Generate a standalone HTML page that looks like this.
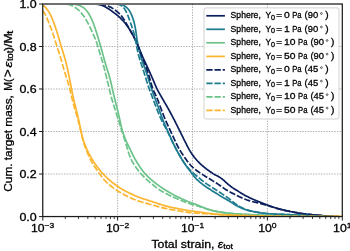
<!DOCTYPE html><html><head><meta charset="utf-8"><style>html,body{margin:0;padding:0;background:#fff}svg{display:block;will-change:transform;opacity:0.999}text{font-family:"Liberation Sans",sans-serif;fill:#000;stroke:#000;stroke-width:0.3px}</style></head><body>
<svg width="350" height="251" viewBox="0 0 350 251">
<rect width="350" height="251" fill="#fff"/>
<path d="M117.6,4.0 V216.55 M192.5,4.0 V216.55 M267.4,4.0 V216.55 M42.75,174.0 H342.3 M42.75,131.5 H342.3 M42.75,89.0 H342.3 M42.75,46.5 H342.3" stroke="#a4a4a4" stroke-width="0.9" stroke-dasharray="1.35,1.3" fill="none"/>
<clipPath id="c"><rect x="42.75" y="4.9" width="299.55" height="211.25"/></clipPath>
<g clip-path="url(#c)" fill="none" stroke-width="1.7" stroke-linejoin="round">
<path d="M42.50,4.00 L43.59,4.00 L44.61,4.00 L45.59,4.00 L46.56,4.00 L47.53,4.00 L48.52,4.00 L49.51,4.00 L50.50,4.00 L51.50,4.00 L52.50,4.00 L53.50,4.00 L54.50,4.00 L55.50,4.00 L56.50,4.00 L57.50,4.00 L58.50,4.00 L59.50,4.00 L60.50,4.00 L61.50,4.00 L62.50,4.00 L63.50,4.00 L64.50,4.00 L65.50,4.00 L66.50,4.00 L67.50,4.00 L68.50,4.00 L69.50,4.00 L70.50,4.00 L71.50,4.00 L72.50,4.00 L73.50,4.00 L74.50,4.00 L75.50,4.00 L76.50,4.00 L77.50,4.00 L78.50,4.00 L79.50,4.00 L80.50,4.00 L81.50,4.00 L82.50,4.00 L83.50,4.00 L84.50,4.00 L85.50,4.00 L86.50,4.00 L87.50,4.00 L88.50,4.00 L89.50,4.00 L90.50,4.00 L91.50,4.01 L92.50,4.02 L93.50,4.04 L94.49,4.08 L95.49,4.13 L96.48,4.21 L97.47,4.32 L98.45,4.47 L99.42,4.66 L100.38,4.89 L101.34,5.17 L102.27,5.49 L103.19,5.85 L104.10,6.25 L104.99,6.69 L105.87,7.16 L106.73,7.66 L107.58,8.18 L108.42,8.72 L109.25,9.27 L110.07,9.84 L110.89,10.42 L111.69,11.01 L112.50,11.60 L113.30,12.20 L114.09,12.81 L114.88,13.42 L115.67,14.03 L116.46,14.66 L117.23,15.28 L118.00,15.92 L118.75,16.58 L119.50,17.24 L120.22,17.93 L120.94,18.62 L121.64,19.33 L122.33,20.06 L123.00,20.79 L123.67,21.54 L124.32,22.30 L124.96,23.06 L125.59,23.84 L126.21,24.62 L126.81,25.42 L127.40,26.22 L127.98,27.04 L128.53,27.87 L129.08,28.70 L129.61,29.55 L130.13,30.40 L130.65,31.26 L131.15,32.12 L131.66,32.98 L132.16,33.85 L132.65,34.72 L133.14,35.59 L133.62,36.47 L134.09,37.35 L134.56,38.23 L135.01,39.12 L135.46,40.02 L135.89,40.92 L136.32,41.82 L136.74,42.73 L137.15,43.64 L137.55,44.56 L137.95,45.47 L138.34,46.40 L138.72,47.32 L139.10,48.24 L139.47,49.17 L139.84,50.10 L140.21,51.03 L140.59,51.96 L140.96,52.88 L141.34,53.81 L141.73,54.73 L142.12,55.65 L142.52,56.56 L142.93,57.48 L143.35,58.39 L143.76,59.30 L144.18,60.20 L144.61,61.11 L145.03,62.01 L145.46,62.92 L145.89,63.82 L146.31,64.73 L146.73,65.63 L147.15,66.54 L147.57,67.45 L147.99,68.36 L148.41,69.27 L148.82,70.18 L149.23,71.09 L149.65,72.00 L150.06,72.91 L150.47,73.82 L150.88,74.74 L151.28,75.65 L151.69,76.56 L152.09,77.48 L152.49,78.40 L152.88,79.32 L153.27,80.24 L153.66,81.16 L154.04,82.08 L154.42,83.01 L154.80,83.93 L155.19,84.85 L155.58,85.77 L155.98,86.69 L156.39,87.60 L156.81,88.50 L157.25,89.40 L157.70,90.29 L158.17,91.18 L158.65,92.05 L159.14,92.92 L159.63,93.79 L160.13,94.66 L160.64,95.52 L161.14,96.38 L161.65,97.25 L162.15,98.11 L162.66,98.97 L163.16,99.84 L163.66,100.70 L164.17,101.57 L164.67,102.43 L165.17,103.30 L165.67,104.16 L166.17,105.03 L166.67,105.90 L167.16,106.77 L167.65,107.64 L168.14,108.51 L168.63,109.38 L169.11,110.26 L169.59,111.13 L170.07,112.01 L170.55,112.89 L171.02,113.77 L171.49,114.65 L171.96,115.54 L172.43,116.42 L172.89,117.31 L173.35,118.19 L173.81,119.08 L174.27,119.97 L174.73,120.86 L175.18,121.75 L175.64,122.64 L176.09,123.54 L176.53,124.43 L176.98,125.32 L177.43,126.22 L177.87,127.11 L178.32,128.01 L178.76,128.91 L179.21,129.80 L179.65,130.70 L180.09,131.59 L180.54,132.49 L180.98,133.39 L181.42,134.28 L181.87,135.18 L182.31,136.08 L182.75,136.97 L183.20,137.87 L183.64,138.76 L184.09,139.66 L184.53,140.56 L184.98,141.45 L185.42,142.35 L185.87,143.24 L186.32,144.14 L186.76,145.03 L187.22,145.92 L187.68,146.81 L188.14,147.69 L188.62,148.57 L189.10,149.45 L189.60,150.31 L190.11,151.17 L190.64,152.02 L191.18,152.86 L191.73,153.69 L192.30,154.51 L192.88,155.32 L193.48,156.12 L194.09,156.91 L194.71,157.70 L195.34,158.47 L195.99,159.23 L196.64,159.98 L197.31,160.73 L197.99,161.46 L198.69,162.18 L199.39,162.88 L200.11,163.58 L200.84,164.26 L201.57,164.94 L202.32,165.60 L203.08,166.25 L203.84,166.90 L204.62,167.53 L205.40,168.15 L206.18,168.77 L206.98,169.37 L207.78,169.97 L208.59,170.56 L209.40,171.14 L210.22,171.72 L211.04,172.28 L211.88,172.83 L212.72,173.37 L213.57,173.89 L214.43,174.40 L215.30,174.89 L216.17,175.37 L217.05,175.85 L217.92,176.33 L218.79,176.82 L219.65,177.32 L220.49,177.85 L221.32,178.40 L222.12,178.99 L222.90,179.60 L223.66,180.24 L224.40,180.90 L225.13,181.58 L225.86,182.26 L226.59,182.94 L227.32,183.61 L228.07,184.27 L228.84,184.91 L229.61,185.54 L230.41,186.15 L231.21,186.74 L232.02,187.32 L232.84,187.89 L233.67,188.44 L234.51,188.99 L235.35,189.53 L236.20,190.06 L237.05,190.58 L237.90,191.10 L238.76,191.62 L239.61,192.14 L240.47,192.66 L241.32,193.18 L242.18,193.69 L243.04,194.20 L243.91,194.70 L244.77,195.20 L245.65,195.68 L246.53,196.15 L247.42,196.61 L248.31,197.07 L249.20,197.51 L250.10,197.94 L251.01,198.37 L251.92,198.78 L252.83,199.19 L253.75,199.59 L254.67,199.98 L255.59,200.37 L256.51,200.75 L257.44,201.12 L258.37,201.50 L259.29,201.87 L260.22,202.24 L261.15,202.61 L262.08,202.98 L263.01,203.35 L263.94,203.71 L264.88,204.08 L265.81,204.44 L266.74,204.80 L267.67,205.16 L268.61,205.51 L269.55,205.86 L270.48,206.20 L271.43,206.54 L272.37,206.87 L273.32,207.19 L274.27,207.50 L275.22,207.81 L276.17,208.10 L277.13,208.39 L278.09,208.66 L279.06,208.93 L280.02,209.18 L280.99,209.43 L281.96,209.67 L282.93,209.90 L283.91,210.13 L284.88,210.35 L285.86,210.56 L286.84,210.77 L287.82,210.98 L288.79,211.19 L289.77,211.39 L290.75,211.59 L291.73,211.79 L292.71,211.98 L293.70,212.17 L294.68,212.36 L295.66,212.54 L296.65,212.71 L297.63,212.88 L298.62,213.04 L299.61,213.20 L300.59,213.35 L301.58,213.50 L302.57,213.64 L303.56,213.77 L304.56,213.90 L305.55,214.02 L306.54,214.14 L307.53,214.25 L308.53,214.36 L309.52,214.46 L310.52,214.56 L311.51,214.65 L312.51,214.74 L313.51,214.83 L314.50,214.92 L315.50,215.01 L316.49,215.09 L317.49,215.18 L318.49,215.27 L319.48,215.36 L320.48,215.46 L321.47,215.55 L322.47,215.65 L323.46,215.74 L324.46,215.84 L325.46,215.93 L326.45,216.01 L327.45,216.10 L328.44,216.18 L329.44,216.25 L330.44,216.32 L331.44,216.38 L332.43,216.44 L333.43,216.50 L334.43,216.55 L335.42,216.59 L336.40,216.64 L337.38,216.67 L338.35,216.71 L339.33,216.74 L340.32,216.77 L341.37,216.79" stroke="#0b1f5c"/>
<path d="M42.50,4.00 L43.59,4.00 L44.61,4.00 L45.59,4.00 L46.56,4.00 L47.53,4.00 L48.52,4.00 L49.51,4.00 L50.50,4.00 L51.50,4.00 L52.50,4.00 L53.50,4.00 L54.50,4.00 L55.50,4.00 L56.50,4.00 L57.50,4.00 L58.50,4.00 L59.50,4.00 L60.50,4.00 L61.50,4.00 L62.50,4.00 L63.50,4.00 L64.50,4.00 L65.50,4.00 L66.50,4.00 L67.50,4.00 L68.50,4.00 L69.50,4.00 L70.50,4.00 L71.50,4.00 L72.50,4.00 L73.50,4.00 L74.50,4.00 L75.50,4.00 L76.50,4.00 L77.50,4.00 L78.50,4.00 L79.50,4.00 L80.50,4.00 L81.50,4.00 L82.50,4.00 L83.50,4.00 L84.50,4.00 L85.50,4.00 L86.50,4.00 L87.50,4.00 L88.50,4.00 L89.50,4.00 L90.50,4.00 L91.50,4.00 L92.50,4.00 L93.50,4.00 L94.50,4.00 L95.50,4.00 L96.50,4.00 L97.50,4.00 L98.50,4.00 L99.50,4.00 L100.50,4.00 L101.50,4.00 L102.50,4.00 L103.50,4.00 L104.50,4.00 L105.50,4.00 L106.50,4.00 L107.50,4.00 L108.50,4.00 L109.50,4.00 L110.50,4.00 L111.50,4.00 L112.50,4.00 L113.50,4.00 L114.50,4.01 L115.50,4.02 L116.49,4.04 L117.49,4.08 L118.48,4.15 L119.46,4.25 L120.42,4.41 L121.37,4.63 L122.30,4.92 L123.21,5.27 L124.08,5.70 L124.92,6.19 L125.72,6.75 L126.48,7.36 L127.20,8.02 L127.87,8.74 L128.50,9.50 L129.08,10.29 L129.62,11.12 L130.13,11.97 L130.59,12.84 L131.03,13.74 L131.44,14.65 L131.82,15.57 L132.19,16.49 L132.55,17.43 L132.88,18.37 L133.20,19.31 L133.51,20.26 L133.79,21.22 L134.06,22.18 L134.31,23.15 L134.54,24.12 L134.75,25.09 L134.95,26.07 L135.14,27.05 L135.32,28.04 L135.49,29.02 L135.65,30.01 L135.80,31.00 L135.95,31.99 L136.09,32.98 L136.22,33.97 L136.35,34.96 L136.49,35.95 L136.63,36.94 L136.77,37.93 L136.93,38.91 L137.09,39.90 L137.26,40.89 L137.44,41.87 L137.63,42.85 L137.83,43.83 L138.03,44.81 L138.23,45.79 L138.44,46.77 L138.65,47.74 L138.87,48.72 L139.10,49.69 L139.33,50.67 L139.57,51.64 L139.81,52.61 L140.06,53.58 L140.32,54.54 L140.59,55.50 L140.86,56.47 L141.14,57.43 L141.43,58.38 L141.73,59.34 L142.03,60.29 L142.34,61.24 L142.67,62.19 L143.00,63.13 L143.33,64.07 L143.68,65.01 L144.02,65.95 L144.37,66.88 L144.72,67.82 L145.06,68.76 L145.40,69.70 L145.73,70.65 L146.06,71.59 L146.38,72.54 L146.70,73.48 L147.02,74.43 L147.33,75.38 L147.64,76.33 L147.94,77.29 L148.25,78.24 L148.55,79.19 L148.84,80.15 L149.14,81.10 L149.43,82.06 L149.72,83.02 L150.01,83.97 L150.31,84.93 L150.60,85.88 L150.90,86.84 L151.21,87.79 L151.53,88.74 L151.85,89.68 L152.18,90.63 L152.51,91.57 L152.85,92.51 L153.20,93.45 L153.55,94.38 L153.90,95.32 L154.25,96.26 L154.60,97.19 L154.95,98.13 L155.30,99.07 L155.65,100.00 L156.00,100.94 L156.35,101.88 L156.70,102.81 L157.05,103.75 L157.40,104.69 L157.75,105.62 L158.10,106.56 L158.44,107.50 L158.78,108.44 L159.11,109.38 L159.45,110.33 L159.78,111.27 L160.11,112.21 L160.44,113.16 L160.77,114.10 L161.10,115.04 L161.44,115.99 L161.78,116.93 L162.13,117.86 L162.48,118.80 L162.84,119.73 L163.21,120.66 L163.58,121.59 L163.97,122.51 L164.35,123.43 L164.75,124.35 L165.15,125.27 L165.55,126.18 L165.96,127.10 L166.37,128.01 L166.78,128.92 L167.19,129.83 L167.60,130.74 L168.01,131.66 L168.42,132.57 L168.82,133.48 L169.23,134.40 L169.64,135.31 L170.05,136.22 L170.46,137.13 L170.87,138.05 L171.28,138.96 L171.69,139.87 L172.11,140.78 L172.53,141.68 L172.95,142.59 L173.38,143.49 L173.81,144.40 L174.25,145.30 L174.69,146.19 L175.13,147.09 L175.58,147.99 L176.03,148.88 L176.49,149.77 L176.95,150.65 L177.42,151.53 L177.89,152.41 L178.37,153.29 L178.86,154.17 L179.35,155.04 L179.85,155.90 L180.35,156.77 L180.86,157.63 L181.37,158.49 L181.88,159.35 L182.41,160.20 L182.93,161.05 L183.47,161.89 L184.02,162.73 L184.57,163.56 L185.13,164.39 L185.71,165.20 L186.29,166.02 L186.88,166.82 L187.47,167.63 L188.07,168.43 L188.67,169.23 L189.28,170.02 L189.88,170.82 L190.47,171.62 L191.07,172.43 L191.67,173.23 L192.26,174.03 L192.87,174.83 L193.48,175.61 L194.11,176.39 L194.75,177.15 L195.42,177.90 L196.09,178.63 L196.79,179.35 L197.50,180.05 L198.22,180.73 L198.96,181.40 L199.71,182.06 L200.48,182.70 L201.25,183.33 L202.04,183.95 L202.83,184.56 L203.64,185.15 L204.45,185.73 L205.27,186.31 L206.09,186.87 L206.92,187.43 L207.76,187.97 L208.60,188.52 L209.44,189.06 L210.28,189.59 L211.13,190.13 L211.97,190.66 L212.82,191.20 L213.67,191.73 L214.51,192.26 L215.36,192.79 L216.21,193.32 L217.06,193.84 L217.91,194.36 L218.77,194.88 L219.62,195.40 L220.48,195.92 L221.34,196.43 L222.20,196.94 L223.06,197.45 L223.92,197.95 L224.79,198.46 L225.65,198.96 L226.51,199.47 L227.37,199.98 L228.23,200.49 L229.09,201.00 L229.94,201.53 L230.79,202.05 L231.64,202.58 L232.49,203.11 L233.33,203.65 L234.18,204.17 L235.03,204.69 L235.89,205.20 L236.76,205.70 L237.63,206.18 L238.51,206.65 L239.41,207.10 L240.30,207.54 L241.21,207.95 L242.13,208.35 L243.05,208.72 L243.99,209.08 L244.92,209.42 L245.87,209.73 L246.82,210.03 L247.78,210.32 L248.74,210.58 L249.71,210.83 L250.68,211.07 L251.66,211.29 L252.63,211.50 L253.61,211.70 L254.59,211.89 L255.58,212.07 L256.56,212.25 L257.55,212.42 L258.53,212.58 L259.52,212.74 L260.51,212.89 L261.50,213.03 L262.49,213.17 L263.48,213.29 L264.47,213.41 L265.47,213.51 L266.46,213.60 L267.46,213.68 L268.45,213.75 L269.45,213.81 L270.45,213.87 L271.45,213.92 L272.45,213.97 L273.45,214.02 L274.44,214.06 L275.44,214.11 L276.44,214.15 L277.44,214.19 L278.44,214.23 L279.44,214.27 L280.44,214.32 L281.44,214.36 L282.44,214.40 L283.44,214.44 L284.44,214.48 L285.44,214.52 L286.43,214.56 L287.43,214.61 L288.43,214.65 L289.43,214.70 L290.43,214.74 L291.43,214.79 L292.43,214.83 L293.43,214.88 L294.43,214.93 L295.42,214.98 L296.42,215.03 L297.42,215.08 L298.42,215.13 L299.42,215.18 L300.42,215.24 L301.42,215.29 L302.41,215.35 L303.41,215.41 L304.41,215.47 L305.41,215.53 L306.41,215.59 L307.41,215.65 L308.40,215.71 L309.40,215.77 L310.40,215.83 L311.40,215.89 L312.40,215.96 L313.39,216.02 L314.39,216.09 L315.39,216.15 L316.39,216.21 L317.39,216.27 L318.38,216.32 L319.38,216.37 L320.38,216.42 L321.38,216.46 L322.38,216.49 L323.38,216.52 L324.38,216.55 L325.38,216.57 L326.38,216.60 L327.38,216.62 L328.38,216.64 L329.38,216.66 L330.38,216.68 L331.38,216.70 L332.38,216.71 L333.38,216.73 L334.37,216.74 L335.37,216.75 L336.35,216.76 L337.33,216.77 L338.30,216.78 L339.28,216.79 L340.27,216.80 L341.32,216.80" stroke="#1d7b8f"/>
<path d="M42.50,4.00 L43.59,4.00 L44.61,4.00 L45.59,4.00 L46.56,4.00 L47.53,4.00 L48.52,4.00 L49.51,4.00 L50.50,4.00 L51.50,4.00 L52.50,4.00 L53.50,4.00 L54.50,4.00 L55.50,4.00 L56.50,4.00 L57.50,4.00 L58.50,4.00 L59.50,4.00 L60.50,4.00 L61.50,4.00 L62.50,4.00 L63.50,4.00 L64.50,4.00 L65.50,4.00 L66.50,4.00 L67.50,4.00 L68.50,4.00 L69.50,4.01 L70.50,4.02 L71.50,4.05 L72.49,4.09 L73.48,4.16 L74.47,4.26 L75.45,4.39 L76.43,4.57 L77.39,4.80 L78.34,5.07 L79.28,5.38 L80.19,5.75 L81.08,6.17 L81.95,6.64 L82.78,7.16 L83.58,7.73 L84.34,8.35 L85.07,9.01 L85.76,9.72 L86.42,10.45 L87.05,11.22 L87.64,12.02 L88.20,12.84 L88.74,13.68 L89.25,14.53 L89.73,15.40 L90.20,16.28 L90.65,17.18 L91.09,18.07 L91.51,18.98 L91.92,19.89 L92.31,20.81 L92.69,21.73 L93.06,22.66 L93.43,23.59 L93.78,24.53 L94.12,25.47 L94.46,26.41 L94.79,27.35 L95.12,28.30 L95.44,29.24 L95.76,30.19 L96.07,31.14 L96.38,32.09 L96.68,33.05 L96.98,34.00 L97.27,34.96 L97.56,35.91 L97.84,36.87 L98.13,37.83 L98.41,38.79 L98.70,39.75 L98.99,40.70 L99.28,41.66 L99.57,42.62 L99.85,43.58 L100.14,44.54 L100.42,45.50 L100.69,46.46 L100.97,47.42 L101.24,48.38 L101.50,49.35 L101.77,50.31 L102.03,51.27 L102.29,52.24 L102.55,53.21 L102.81,54.17 L103.07,55.14 L103.33,56.10 L103.59,57.07 L103.86,58.03 L104.12,59.00 L104.38,59.96 L104.65,60.92 L104.92,61.89 L105.20,62.85 L105.48,63.81 L105.76,64.77 L106.05,65.72 L106.35,66.68 L106.66,67.63 L106.96,68.58 L107.27,69.53 L107.57,70.49 L107.87,71.44 L108.17,72.39 L108.46,73.35 L108.74,74.31 L109.02,75.27 L109.29,76.23 L109.56,77.20 L109.82,78.16 L110.08,79.13 L110.34,80.09 L110.58,81.06 L110.82,82.03 L111.06,83.00 L111.29,83.98 L111.51,84.95 L111.73,85.93 L111.95,86.90 L112.16,87.88 L112.37,88.86 L112.59,89.83 L112.81,90.81 L113.03,91.79 L113.25,92.76 L113.48,93.73 L113.71,94.71 L113.94,95.68 L114.18,96.65 L114.42,97.62 L114.66,98.59 L114.90,99.56 L115.14,100.53 L115.39,101.50 L115.63,102.47 L115.88,103.44 L116.13,104.41 L116.37,105.38 L116.62,106.35 L116.87,107.32 L117.11,108.29 L117.36,109.26 L117.60,110.23 L117.83,111.20 L118.07,112.17 L118.30,113.14 L118.53,114.12 L118.75,115.09 L118.97,116.07 L119.20,117.04 L119.42,118.02 L119.63,118.99 L119.85,119.97 L120.07,120.94 L120.28,121.92 L120.50,122.90 L120.71,123.87 L120.93,124.85 L121.14,125.83 L121.37,126.80 L121.60,127.77 L121.84,128.74 L122.10,129.71 L122.37,130.67 L122.65,131.63 L122.95,132.58 L123.26,133.53 L123.59,134.47 L123.93,135.42 L124.28,136.35 L124.64,137.28 L125.01,138.21 L125.38,139.14 L125.77,140.06 L126.17,140.97 L126.58,141.89 L126.99,142.80 L127.42,143.70 L127.85,144.61 L128.28,145.51 L128.72,146.41 L129.16,147.30 L129.59,148.20 L130.03,149.10 L130.46,150.01 L130.89,150.91 L131.32,151.81 L131.76,152.71 L132.20,153.61 L132.64,154.51 L133.09,155.40 L133.55,156.29 L134.01,157.17 L134.49,158.05 L134.97,158.92 L135.46,159.79 L135.97,160.66 L136.47,161.52 L136.99,162.38 L137.52,163.23 L138.05,164.07 L138.59,164.91 L139.13,165.75 L139.69,166.58 L140.25,167.41 L140.82,168.23 L141.40,169.04 L141.99,169.85 L142.59,170.65 L143.21,171.43 L143.84,172.21 L144.48,172.97 L145.14,173.72 L145.81,174.46 L146.50,175.19 L147.20,175.90 L147.90,176.60 L148.62,177.30 L149.35,177.98 L150.09,178.65 L150.84,179.32 L151.59,179.97 L152.36,180.62 L153.13,181.26 L153.90,181.89 L154.68,182.51 L155.47,183.12 L156.27,183.73 L157.06,184.33 L157.87,184.93 L158.68,185.52 L159.49,186.10 L160.31,186.67 L161.13,187.24 L161.95,187.81 L162.78,188.37 L163.62,188.92 L164.45,189.46 L165.29,190.00 L166.14,190.54 L166.99,191.07 L167.84,191.59 L168.70,192.10 L169.56,192.60 L170.43,193.10 L171.30,193.59 L172.18,194.06 L173.06,194.53 L173.95,194.99 L174.84,195.45 L175.74,195.89 L176.63,196.34 L177.53,196.78 L178.43,197.21 L179.33,197.64 L180.24,198.07 L181.14,198.50 L182.05,198.92 L182.96,199.34 L183.87,199.75 L184.78,200.15 L185.70,200.55 L186.62,200.94 L187.55,201.32 L188.47,201.69 L189.40,202.06 L190.34,202.41 L191.27,202.77 L192.21,203.11 L193.15,203.46 L194.09,203.79 L195.03,204.13 L195.97,204.47 L196.91,204.82 L197.84,205.18 L198.76,205.55 L199.68,205.94 L200.60,206.34 L201.51,206.74 L202.43,207.14 L203.34,207.53 L204.27,207.91 L205.20,208.27 L206.13,208.61 L207.08,208.94 L208.03,209.24 L208.98,209.54 L209.94,209.82 L210.90,210.08 L211.87,210.33 L212.84,210.57 L213.81,210.80 L214.79,211.02 L215.77,211.23 L216.75,211.43 L217.73,211.62 L218.71,211.80 L219.70,211.97 L220.68,212.13 L221.67,212.29 L222.66,212.43 L223.65,212.57 L224.64,212.70 L225.63,212.83 L226.63,212.95 L227.62,213.06 L228.61,213.17 L229.61,213.27 L230.60,213.37 L231.60,213.47 L232.59,213.56 L233.59,213.65 L234.59,213.73 L235.58,213.81 L236.58,213.89 L237.58,213.96 L238.57,214.03 L239.57,214.09 L240.57,214.15 L241.57,214.21 L242.57,214.27 L243.57,214.32 L244.56,214.37 L245.56,214.42 L246.56,214.47 L247.56,214.52 L248.56,214.56 L249.56,214.61 L250.56,214.65 L251.56,214.69 L252.56,214.74 L253.56,214.78 L254.55,214.82 L255.55,214.87 L256.55,214.91 L257.55,214.96 L258.55,215.00 L259.55,215.05 L260.55,215.10 L261.55,215.15 L262.55,215.20 L263.54,215.25 L264.54,215.30 L265.54,215.35 L266.54,215.40 L267.54,215.45 L268.54,215.50 L269.54,215.55 L270.54,215.60 L271.53,215.65 L272.53,215.69 L273.53,215.73 L274.53,215.77 L275.53,215.82 L276.53,215.85 L277.53,215.89 L278.53,215.93 L279.53,215.97 L280.53,216.00 L281.53,216.04 L282.53,216.07 L283.53,216.11 L284.52,216.14 L285.52,216.17 L286.52,216.20 L287.52,216.23 L288.52,216.26 L289.52,216.28 L290.52,216.31 L291.52,216.33 L292.52,216.35 L293.52,216.37 L294.52,216.39 L295.52,216.40 L296.52,216.42 L297.52,216.43 L298.52,216.45 L299.52,216.46 L300.52,216.48 L301.52,216.49 L302.52,216.50 L303.52,216.52 L304.52,216.53 L305.52,216.54 L306.52,216.55 L307.52,216.56 L308.52,216.58 L309.52,216.59 L310.52,216.60 L311.52,216.61 L312.52,216.62 L313.52,216.63 L314.52,216.64 L315.52,216.65 L316.52,216.66 L317.52,216.67 L318.52,216.68 L319.52,216.69 L320.52,216.70 L321.52,216.71 L322.52,216.72 L323.52,216.72 L324.52,216.73 L325.52,216.74 L326.52,216.74 L327.52,216.75 L328.52,216.76 L329.52,216.76 L330.52,216.77 L331.52,216.77 L332.52,216.78 L333.52,216.78 L334.51,216.78 L335.51,216.79 L336.49,216.79 L337.47,216.79 L338.45,216.80 L339.42,216.80 L340.41,216.80 L341.46,216.80" stroke="#6cc389"/>
<path d="M42.50,5.20 L43.46,5.69 L44.28,6.29 L45.00,6.95 L45.68,7.64 L46.32,8.37 L46.93,9.14 L47.50,9.93 L48.06,10.75 L48.60,11.58 L49.12,12.43 L49.62,13.29 L50.09,14.17 L50.55,15.06 L50.99,15.95 L51.41,16.86 L51.82,17.77 L52.21,18.69 L52.59,19.61 L52.96,20.54 L53.31,21.48 L53.66,22.41 L54.00,23.35 L54.34,24.30 L54.67,25.24 L55.00,26.18 L55.33,27.13 L55.65,28.07 L55.97,29.02 L56.28,29.97 L56.60,30.92 L56.90,31.87 L57.21,32.82 L57.51,33.78 L57.80,34.73 L58.09,35.69 L58.38,36.65 L58.67,37.61 L58.95,38.57 L59.23,39.53 L59.50,40.49 L59.78,41.45 L60.06,42.41 L60.34,43.37 L60.62,44.33 L60.91,45.29 L61.19,46.24 L61.48,47.20 L61.78,48.16 L62.07,49.11 L62.37,50.07 L62.67,51.02 L62.96,51.98 L63.26,52.93 L63.55,53.89 L63.84,54.85 L64.12,55.80 L64.41,56.76 L64.68,57.72 L64.96,58.69 L65.23,59.65 L65.49,60.61 L65.75,61.58 L66.00,62.55 L66.25,63.52 L66.49,64.49 L66.72,65.46 L66.95,66.43 L67.18,67.41 L67.40,68.38 L67.61,69.36 L67.82,70.33 L68.03,71.31 L68.24,72.29 L68.44,73.27 L68.65,74.25 L68.85,75.23 L69.04,76.21 L69.24,77.19 L69.44,78.17 L69.63,79.15 L69.83,80.13 L70.03,81.11 L70.22,82.09 L70.41,83.07 L70.61,84.06 L70.80,85.04 L70.99,86.02 L71.18,87.00 L71.37,87.98 L71.55,88.96 L71.74,89.95 L71.93,90.93 L72.12,91.91 L72.31,92.89 L72.51,93.87 L72.71,94.85 L72.91,95.83 L73.12,96.81 L73.34,97.78 L73.56,98.76 L73.79,99.73 L74.02,100.71 L74.25,101.68 L74.49,102.65 L74.73,103.62 L74.97,104.59 L75.22,105.56 L75.46,106.53 L75.70,107.50 L75.94,108.47 L76.18,109.44 L76.42,110.41 L76.66,111.39 L76.89,112.36 L77.13,113.33 L77.37,114.30 L77.60,115.27 L77.83,116.24 L78.06,117.22 L78.28,118.19 L78.50,119.17 L78.72,120.14 L78.93,121.12 L79.14,122.10 L79.35,123.08 L79.55,124.06 L79.75,125.04 L79.96,126.02 L80.16,126.99 L80.37,127.97 L80.58,128.95 L80.79,129.93 L81.01,130.90 L81.23,131.88 L81.45,132.85 L81.68,133.83 L81.92,134.80 L82.16,135.77 L82.41,136.74 L82.66,137.70 L82.93,138.67 L83.21,139.62 L83.50,140.58 L83.81,141.53 L84.13,142.48 L84.46,143.42 L84.81,144.36 L85.17,145.29 L85.54,146.22 L85.92,147.14 L86.31,148.06 L86.71,148.97 L87.13,149.88 L87.55,150.79 L87.98,151.69 L88.42,152.59 L88.88,153.48 L89.34,154.37 L89.81,155.25 L90.29,156.12 L90.78,156.99 L91.29,157.86 L91.80,158.71 L92.32,159.57 L92.85,160.41 L93.39,161.26 L93.93,162.09 L94.49,162.93 L95.04,163.76 L95.61,164.58 L96.18,165.40 L96.77,166.21 L97.36,167.02 L97.96,167.82 L98.56,168.61 L99.18,169.39 L99.81,170.17 L100.45,170.94 L101.11,171.69 L101.77,172.44 L102.44,173.18 L103.12,173.92 L103.81,174.64 L104.50,175.35 L105.21,176.06 L105.92,176.76 L106.64,177.46 L107.37,178.14 L108.11,178.82 L108.85,179.49 L109.60,180.15 L110.36,180.80 L111.12,181.44 L111.89,182.08 L112.67,182.71 L113.46,183.32 L114.25,183.94 L115.05,184.54 L115.85,185.13 L116.66,185.71 L117.49,186.28 L118.31,186.83 L119.15,187.38 L119.99,187.92 L120.85,188.44 L121.70,188.95 L122.57,189.46 L123.44,189.95 L124.31,190.44 L125.19,190.91 L126.07,191.38 L126.96,191.84 L127.85,192.29 L128.75,192.73 L129.65,193.17 L130.55,193.60 L131.45,194.03 L132.36,194.45 L133.27,194.87 L134.18,195.28 L135.10,195.68 L136.01,196.07 L136.94,196.46 L137.86,196.83 L138.80,197.19 L139.73,197.55 L140.67,197.89 L141.61,198.23 L142.55,198.55 L143.50,198.87 L144.45,199.19 L145.40,199.49 L146.36,199.79 L147.31,200.09 L148.27,200.39 L149.22,200.69 L150.17,200.99 L151.12,201.30 L152.07,201.61 L153.02,201.92 L153.97,202.24 L154.92,202.56 L155.87,202.88 L156.82,203.19 L157.76,203.51 L158.71,203.82 L159.66,204.13 L160.62,204.44 L161.57,204.74 L162.53,205.03 L163.48,205.32 L164.44,205.60 L165.41,205.87 L166.37,206.13 L167.34,206.39 L168.31,206.63 L169.28,206.87 L170.25,207.09 L171.23,207.31 L172.21,207.51 L173.19,207.71 L174.17,207.90 L175.15,208.08 L176.13,208.27 L177.11,208.45 L178.10,208.64 L179.08,208.84 L180.06,209.04 L181.04,209.24 L182.02,209.43 L183.00,209.63 L183.98,209.82 L184.96,210.00 L185.95,210.17 L186.93,210.32 L187.92,210.47 L188.91,210.60 L189.90,210.73 L190.90,210.86 L191.89,210.98 L192.88,211.10 L193.87,211.22 L194.87,211.34 L195.86,211.47 L196.85,211.61 L197.84,211.75 L198.82,211.90 L199.81,212.05 L200.80,212.22 L201.78,212.38 L202.77,212.54 L203.76,212.69 L204.75,212.83 L205.74,212.97 L206.73,213.09 L207.72,213.22 L208.71,213.34 L209.70,213.45 L210.70,213.57 L211.69,213.68 L212.69,213.79 L213.68,213.90 L214.67,214.00 L215.67,214.10 L216.66,214.19 L217.66,214.28 L218.66,214.36 L219.65,214.43 L220.65,214.50 L221.65,214.57 L222.65,214.63 L223.65,214.68 L224.64,214.74 L225.64,214.79 L226.64,214.83 L227.64,214.88 L228.64,214.92 L229.64,214.95 L230.64,214.99 L231.64,215.02 L232.64,215.06 L233.64,215.09 L234.64,215.12 L235.64,215.15 L236.64,215.18 L237.64,215.21 L238.64,215.23 L239.64,215.26 L240.63,215.29 L241.63,215.31 L242.63,215.34 L243.63,215.36 L244.63,215.39 L245.63,215.42 L246.63,215.44 L247.63,215.47 L248.63,215.50 L249.63,215.52 L250.63,215.55 L251.63,215.58 L252.63,215.60 L253.63,215.63 L254.63,215.65 L255.63,215.68 L256.63,215.70 L257.63,215.73 L258.63,215.75 L259.63,215.78 L260.63,215.80 L261.63,215.82 L262.63,215.85 L263.63,215.87 L264.63,215.89 L265.63,215.91 L266.63,215.93 L267.63,215.96 L268.63,215.98 L269.63,216.00 L270.63,216.02 L271.63,216.04 L272.63,216.06 L273.63,216.08 L274.62,216.10 L275.62,216.12 L276.62,216.14 L277.62,216.15 L278.62,216.17 L279.62,216.19 L280.62,216.20 L281.62,216.21 L282.62,216.22 L283.62,216.23 L284.62,216.24 L285.62,216.25 L286.62,216.26 L287.62,216.27 L288.62,216.27 L289.62,216.28 L290.62,216.28 L291.62,216.29 L292.62,216.30 L293.62,216.30 L294.62,216.31 L295.62,216.31 L296.62,216.32 L297.62,216.32 L298.62,216.33 L299.62,216.33 L300.62,216.34 L301.62,216.34 L302.62,216.35 L303.62,216.35 L304.62,216.36 L305.62,216.36 L306.62,216.37 L307.62,216.37 L308.62,216.38 L309.62,216.38 L310.62,216.38 L311.62,216.39 L312.62,216.39 L313.62,216.40 L314.62,216.40 L315.62,216.40 L316.62,216.41 L317.62,216.41 L318.62,216.41 L319.62,216.42 L320.62,216.42 L321.62,216.42 L322.62,216.42 L323.62,216.43 L324.62,216.43 L325.62,216.43 L326.62,216.43 L327.62,216.44 L328.62,216.44 L329.62,216.44 L330.62,216.44 L331.62,216.44 L332.62,216.44 L333.62,216.44 L334.62,216.45 L335.61,216.45 L336.60,216.45 L337.58,216.45 L338.55,216.45 L339.52,216.45 L340.52,216.45 L341.57,216.45" stroke="#fbb52f"/>
<path d="M42.50,4.00 L43.59,4.00 L44.61,4.00 L45.59,4.00 L46.56,4.00 L47.53,4.00 L48.52,4.00 L49.51,4.00 L50.50,4.00 L51.50,4.00 L52.50,4.00 L53.50,4.00 L54.50,4.00 L55.50,4.00 L56.50,4.00 L57.50,4.00 L58.50,4.00 L59.50,4.00 L60.50,4.00 L61.50,4.00 L62.50,4.00 L63.50,4.00 L64.50,4.00 L65.50,4.00 L66.50,4.00 L67.50,4.00 L68.50,4.00 L69.50,4.00 L70.50,4.00 L71.50,4.00 L72.50,4.00 L73.50,4.00 L74.50,4.00 L75.50,4.00 L76.50,4.00 L77.50,4.00 L78.50,4.00 L79.50,4.00 L80.50,4.00 L81.50,4.00 L82.50,4.00 L83.50,4.00 L84.50,4.00 L85.50,4.00 L86.50,4.00 L87.50,4.00 L88.50,4.00 L89.50,4.00 L90.50,4.00 L91.50,4.00 L92.50,4.00 L93.50,4.00 L94.50,4.00 L95.50,4.01 L96.50,4.02 L97.50,4.03 L98.50,4.06 L99.49,4.11 L100.48,4.18 L101.47,4.28 L102.46,4.41 L103.43,4.59 L104.40,4.80 L105.36,5.06 L106.31,5.35 L107.24,5.68 L108.16,6.05 L109.07,6.46 L109.97,6.89 L110.85,7.36 L111.72,7.85 L112.57,8.36 L113.41,8.90 L114.23,9.46 L115.04,10.04 L115.84,10.64 L116.63,11.26 L117.39,11.89 L118.15,12.54 L118.88,13.22 L119.60,13.91 L120.29,14.62 L120.96,15.36 L121.60,16.12 L122.21,16.90 L122.80,17.71 L123.37,18.53 L123.91,19.36 L124.44,20.21 L124.96,21.06 L125.46,21.93 L125.96,22.79 L126.45,23.66 L126.93,24.54 L127.42,25.41 L127.91,26.28 L128.41,27.15 L128.90,28.02 L129.40,28.89 L129.90,29.75 L130.40,30.62 L130.90,31.48 L131.39,32.35 L131.89,33.22 L132.37,34.10 L132.85,34.97 L133.33,35.85 L133.79,36.74 L134.24,37.63 L134.69,38.52 L135.12,39.43 L135.54,40.33 L135.96,41.24 L136.36,42.16 L136.76,43.07 L137.15,43.99 L137.53,44.92 L137.91,45.84 L138.28,46.77 L138.64,47.70 L139.00,48.64 L139.36,49.57 L139.72,50.50 L140.07,51.44 L140.42,52.38 L140.77,53.31 L141.13,54.25 L141.49,55.18 L141.85,56.11 L142.21,57.04 L142.58,57.97 L142.94,58.90 L143.31,59.83 L143.68,60.76 L144.05,61.69 L144.41,62.63 L144.77,63.56 L145.12,64.49 L145.47,65.43 L145.82,66.37 L146.16,67.31 L146.49,68.25 L146.81,69.20 L147.13,70.15 L147.44,71.10 L147.75,72.05 L148.06,73.00 L148.36,73.95 L148.65,74.91 L148.95,75.86 L149.24,76.82 L149.53,77.78 L149.81,78.74 L150.09,79.70 L150.37,80.66 L150.64,81.62 L150.91,82.58 L151.19,83.54 L151.46,84.50 L151.74,85.46 L152.04,86.42 L152.35,87.36 L152.68,88.31 L153.03,89.24 L153.41,90.16 L153.80,91.08 L154.22,91.99 L154.64,92.89 L155.07,93.79 L155.50,94.69 L155.93,95.59 L156.34,96.50 L156.74,97.42 L157.13,98.34 L157.50,99.27 L157.86,100.20 L158.22,101.13 L158.57,102.07 L158.91,103.01 L159.26,103.95 L159.60,104.88 L159.94,105.82 L160.29,106.76 L160.64,107.70 L160.99,108.64 L161.34,109.57 L161.69,110.51 L162.04,111.44 L162.40,112.38 L162.76,113.31 L163.12,114.24 L163.48,115.18 L163.85,116.11 L164.22,117.03 L164.60,117.96 L164.99,118.88 L165.38,119.80 L165.77,120.72 L166.17,121.64 L166.58,122.55 L166.99,123.46 L167.41,124.37 L167.83,125.28 L168.25,126.18 L168.67,127.09 L169.10,128.00 L169.52,128.90 L169.95,129.81 L170.37,130.71 L170.79,131.62 L171.21,132.53 L171.64,133.43 L172.06,134.34 L172.48,135.25 L172.90,136.15 L173.32,137.06 L173.74,137.97 L174.16,138.87 L174.59,139.78 L175.01,140.68 L175.44,141.59 L175.87,142.49 L176.30,143.39 L176.74,144.29 L177.18,145.19 L177.62,146.09 L178.07,146.98 L178.54,147.86 L179.01,148.74 L179.51,149.61 L180.02,150.46 L180.55,151.31 L181.09,152.14 L181.64,152.98 L182.20,153.80 L182.77,154.63 L183.33,155.46 L183.89,156.29 L184.45,157.11 L185.01,157.94 L185.57,158.77 L186.14,159.58 L186.73,160.40 L187.32,161.20 L187.93,161.99 L188.55,162.78 L189.18,163.55 L189.83,164.30 L190.49,165.05 L191.17,165.78 L191.87,166.49 L192.59,167.19 L193.32,167.86 L194.07,168.52 L194.84,169.15 L195.62,169.76 L196.42,170.36 L197.23,170.95 L198.05,171.53 L198.87,172.09 L199.70,172.65 L200.53,173.21 L201.36,173.76 L202.20,174.31 L203.04,174.86 L203.88,175.40 L204.72,175.93 L205.57,176.46 L206.42,176.99 L207.28,177.51 L208.13,178.03 L208.98,178.55 L209.84,179.06 L210.69,179.58 L211.55,180.10 L212.40,180.62 L213.25,181.15 L214.10,181.67 L214.95,182.20 L215.80,182.74 L216.64,183.27 L217.48,183.82 L218.31,184.37 L219.14,184.93 L219.96,185.50 L220.78,186.07 L221.60,186.65 L222.42,187.22 L223.24,187.80 L224.06,188.36 L224.89,188.92 L225.73,189.46 L226.57,189.99 L227.43,190.51 L228.29,191.01 L229.16,191.50 L230.04,191.98 L230.92,192.45 L231.80,192.92 L232.69,193.38 L233.58,193.84 L234.47,194.29 L235.36,194.75 L236.25,195.19 L237.15,195.64 L238.05,196.08 L238.95,196.52 L239.85,196.95 L240.75,197.37 L241.66,197.79 L242.58,198.19 L243.50,198.58 L244.42,198.97 L245.35,199.33 L246.28,199.68 L247.22,200.02 L248.17,200.34 L249.12,200.65 L250.07,200.94 L251.03,201.22 L252.00,201.48 L252.97,201.72 L253.94,201.96 L254.91,202.19 L255.89,202.41 L256.86,202.63 L257.83,202.86 L258.81,203.09 L259.78,203.33 L260.75,203.57 L261.72,203.82 L262.68,204.08 L263.65,204.34 L264.61,204.62 L265.57,204.90 L266.52,205.19 L267.48,205.48 L268.43,205.78 L269.39,206.08 L270.34,206.38 L271.29,206.68 L272.25,206.98 L273.20,207.29 L274.16,207.58 L275.11,207.88 L276.07,208.17 L277.03,208.45 L277.99,208.72 L278.95,208.99 L279.92,209.24 L280.89,209.49 L281.86,209.72 L282.83,209.95 L283.81,210.16 L284.79,210.37 L285.77,210.58 L286.74,210.78 L287.72,210.98 L288.70,211.18 L289.68,211.38 L290.66,211.58 L291.64,211.77 L292.63,211.97 L293.61,212.16 L294.59,212.34 L295.57,212.52 L296.56,212.70 L297.54,212.87 L298.53,213.03 L299.52,213.19 L300.51,213.34 L301.49,213.48 L302.48,213.62 L303.48,213.76 L304.47,213.89 L305.46,214.01 L306.45,214.13 L307.45,214.24 L308.44,214.35 L309.43,214.45 L310.43,214.55 L311.42,214.65 L312.42,214.74 L313.42,214.83 L314.41,214.91 L315.41,215.00 L316.41,215.08 L317.40,215.17 L318.40,215.26 L319.39,215.36 L320.39,215.45 L321.38,215.55 L322.38,215.64 L323.37,215.74 L324.37,215.83 L325.37,215.92 L326.36,216.01 L327.36,216.09 L328.36,216.17 L329.35,216.24 L330.35,216.31 L331.35,216.38 L332.35,216.44 L333.34,216.49 L334.34,216.54 L335.33,216.59 L336.32,216.63 L337.29,216.67 L338.27,216.71 L339.24,216.74 L340.23,216.76 L341.28,216.79" stroke="#0b1f5c" stroke-dasharray="6.3,1.9"/>
<path d="M42.50,4.00 L43.59,4.00 L44.61,4.00 L45.59,4.00 L46.56,4.00 L47.53,4.00 L48.52,4.00 L49.51,4.00 L50.50,4.00 L51.50,4.00 L52.50,4.00 L53.50,4.00 L54.50,4.00 L55.50,4.00 L56.50,4.00 L57.50,4.00 L58.50,4.00 L59.50,4.00 L60.50,4.00 L61.50,4.00 L62.50,4.00 L63.50,4.00 L64.50,4.00 L65.50,4.00 L66.50,4.00 L67.50,4.00 L68.50,4.00 L69.50,4.00 L70.50,4.00 L71.50,4.00 L72.50,4.00 L73.50,4.00 L74.50,4.00 L75.50,4.00 L76.50,4.00 L77.50,4.00 L78.50,4.00 L79.50,4.00 L80.50,4.00 L81.50,4.00 L82.50,4.00 L83.50,4.00 L84.50,4.00 L85.50,4.00 L86.50,4.00 L87.50,4.00 L88.50,4.00 L89.50,4.00 L90.50,4.00 L91.50,4.00 L92.50,4.00 L93.50,4.00 L94.50,4.00 L95.50,4.00 L96.50,4.00 L97.50,4.00 L98.50,4.00 L99.50,4.00 L100.50,4.00 L101.50,4.00 L102.50,4.00 L103.50,4.00 L104.50,4.00 L105.50,4.00 L106.50,4.00 L107.50,4.00 L108.50,4.00 L109.50,4.00 L110.50,4.00 L111.50,4.00 L112.50,4.01 L113.50,4.02 L114.49,4.04 L115.48,4.08 L116.47,4.16 L117.44,4.28 L118.39,4.46 L119.31,4.72 L120.20,5.06 L121.04,5.49 L121.83,6.01 L122.57,6.61 L123.25,7.29 L123.89,8.03 L124.47,8.81 L125.01,9.63 L125.52,10.48 L125.99,11.36 L126.44,12.24 L126.87,13.15 L127.27,14.06 L127.65,14.98 L128.01,15.91 L128.37,16.85 L128.71,17.78 L129.05,18.72 L129.39,19.66 L129.72,20.61 L130.06,21.55 L130.39,22.49 L130.72,23.44 L131.05,24.38 L131.37,25.33 L131.69,26.27 L132.01,27.22 L132.33,28.17 L132.64,29.12 L132.95,30.07 L133.26,31.02 L133.55,31.98 L133.84,32.93 L134.10,33.90 L134.35,34.86 L134.59,35.83 L134.81,36.81 L135.02,37.78 L135.22,38.76 L135.41,39.74 L135.60,40.73 L135.78,41.71 L135.97,42.69 L136.16,43.67 L136.34,44.66 L136.53,45.64 L136.72,46.62 L136.91,47.60 L137.11,48.58 L137.30,49.56 L137.50,50.54 L137.71,51.52 L137.92,52.50 L138.13,53.47 L138.36,54.45 L138.60,55.42 L138.85,56.38 L139.11,57.35 L139.39,58.31 L139.68,59.26 L139.98,60.22 L140.29,61.17 L140.61,62.11 L140.94,63.06 L141.26,64.01 L141.58,64.95 L141.90,65.90 L142.22,66.85 L142.53,67.80 L142.84,68.75 L143.14,69.70 L143.44,70.66 L143.74,71.61 L144.04,72.56 L144.34,73.52 L144.64,74.47 L144.93,75.43 L145.23,76.38 L145.52,77.34 L145.82,78.29 L146.11,79.25 L146.41,80.21 L146.70,81.16 L147.00,82.12 L147.29,83.07 L147.59,84.03 L147.90,84.98 L148.20,85.93 L148.52,86.88 L148.84,87.83 L149.17,88.77 L149.50,89.71 L149.85,90.65 L150.20,91.58 L150.56,92.52 L150.92,93.45 L151.29,94.38 L151.65,95.31 L152.01,96.24 L152.37,97.18 L152.73,98.11 L153.08,99.05 L153.43,99.98 L153.78,100.92 L154.13,101.86 L154.48,102.79 L154.83,103.73 L155.18,104.67 L155.53,105.60 L155.89,106.54 L156.25,107.47 L156.61,108.40 L156.97,109.34 L157.34,110.27 L157.71,111.20 L158.08,112.13 L158.45,113.05 L158.83,113.98 L159.21,114.90 L159.59,115.83 L159.99,116.74 L160.39,117.66 L160.80,118.57 L161.22,119.48 L161.65,120.38 L162.09,121.28 L162.54,122.17 L162.99,123.06 L163.46,123.94 L163.93,124.82 L164.41,125.70 L164.89,126.58 L165.37,127.46 L165.85,128.34 L166.32,129.22 L166.78,130.10 L167.24,130.99 L167.69,131.88 L168.13,132.78 L168.57,133.68 L169.00,134.58 L169.43,135.49 L169.85,136.39 L170.27,137.30 L170.69,138.21 L171.11,139.12 L171.53,140.02 L171.95,140.93 L172.38,141.83 L172.81,142.73 L173.25,143.63 L173.70,144.53 L174.15,145.42 L174.61,146.31 L175.07,147.20 L175.53,148.08 L176.01,148.96 L176.48,149.84 L176.96,150.72 L177.45,151.59 L177.94,152.46 L178.43,153.34 L178.92,154.21 L179.42,155.07 L179.92,155.94 L180.42,156.80 L180.94,157.66 L181.45,158.52 L181.98,159.37 L182.51,160.21 L183.05,161.05 L183.60,161.89 L184.17,162.71 L184.74,163.53 L185.33,164.34 L185.93,165.14 L186.54,165.93 L187.16,166.71 L187.79,167.48 L188.44,168.24 L189.10,168.99 L189.78,169.72 L190.47,170.44 L191.17,171.15 L191.90,171.83 L192.63,172.51 L193.38,173.17 L194.14,173.82 L194.90,174.46 L195.67,175.11 L196.43,175.75 L197.19,176.40 L197.96,177.04 L198.72,177.69 L199.49,178.33 L200.25,178.97 L201.02,179.61 L201.80,180.24 L202.58,180.86 L203.37,181.48 L204.16,182.08 L204.97,182.68 L205.78,183.26 L206.60,183.83 L207.42,184.40 L208.25,184.95 L209.09,185.50 L209.93,186.03 L210.78,186.57 L211.62,187.11 L212.47,187.64 L213.31,188.18 L214.15,188.72 L214.99,189.26 L215.83,189.80 L216.67,190.34 L217.51,190.88 L218.35,191.43 L219.19,191.97 L220.03,192.52 L220.87,193.06 L221.71,193.61 L222.54,194.16 L223.38,194.71 L224.21,195.26 L225.04,195.83 L225.86,196.39 L226.67,196.97 L227.48,197.56 L228.29,198.15 L229.08,198.76 L229.87,199.37 L230.65,199.99 L231.43,200.62 L232.21,201.25 L232.99,201.87 L233.77,202.49 L234.56,203.10 L235.36,203.70 L236.17,204.28 L237.00,204.84 L237.83,205.38 L238.68,205.91 L239.55,206.41 L240.42,206.89 L241.31,207.34 L242.20,207.78 L243.11,208.19 L244.03,208.58 L244.96,208.94 L245.90,209.29 L246.84,209.62 L247.79,209.92 L248.74,210.21 L249.70,210.49 L250.67,210.74 L251.64,210.99 L252.61,211.21 L253.59,211.43 L254.57,211.63 L255.55,211.83 L256.53,212.01 L257.51,212.20 L258.50,212.37 L259.48,212.54 L260.47,212.71 L261.45,212.87 L262.44,213.02 L263.43,213.16 L264.42,213.29 L265.41,213.40 L266.41,213.51 L267.40,213.61 L268.40,213.69 L269.40,213.77 L270.39,213.84 L271.39,213.90 L272.39,213.96 L273.39,214.01 L274.39,214.06 L275.39,214.11 L276.38,214.15 L277.38,214.20 L278.38,214.24 L279.38,214.28 L280.38,214.32 L281.38,214.36 L282.38,214.40 L283.38,214.44 L284.38,214.48 L285.38,214.52 L286.38,214.56 L287.37,214.61 L288.37,214.65 L289.37,214.69 L290.37,214.74 L291.37,214.78 L292.37,214.83 L293.37,214.88 L294.37,214.92 L295.37,214.97 L296.37,215.02 L297.36,215.07 L298.36,215.13 L299.36,215.18 L300.36,215.23 L301.36,215.29 L302.36,215.35 L303.35,215.40 L304.35,215.46 L305.35,215.52 L306.35,215.58 L307.35,215.64 L308.35,215.70 L309.34,215.77 L310.34,215.83 L311.34,215.89 L312.34,215.95 L313.34,216.02 L314.33,216.08 L315.33,216.15 L316.33,216.21 L317.33,216.27 L318.33,216.32 L319.32,216.37 L320.32,216.41 L321.32,216.45 L322.32,216.49 L323.32,216.52 L324.32,216.55 L325.32,216.57 L326.32,216.60 L327.32,216.62 L328.32,216.64 L329.32,216.66 L330.32,216.68 L331.32,216.69 L332.32,216.71 L333.32,216.72 L334.31,216.74 L335.31,216.75 L336.29,216.76 L337.27,216.77 L338.25,216.78 L339.22,216.79 L340.21,216.80 L341.26,216.80" stroke="#1d7b8f" stroke-dasharray="6.3,1.9"/>
<path d="M42.50,4.00 L43.59,4.00 L44.61,4.00 L45.59,4.00 L46.56,4.00 L47.53,4.00 L48.52,4.00 L49.51,4.00 L50.50,4.00 L51.50,4.00 L52.50,4.00 L53.50,4.00 L54.50,4.00 L55.50,4.00 L56.50,4.00 L57.50,4.00 L58.50,4.00 L59.50,4.00 L60.50,4.00 L61.50,4.01 L62.50,4.01 L63.50,4.03 L64.49,4.06 L65.48,4.12 L66.47,4.20 L67.45,4.33 L68.42,4.51 L69.37,4.74 L70.31,5.04 L71.23,5.38 L72.13,5.78 L73.02,6.21 L73.89,6.69 L74.74,7.20 L75.58,7.74 L76.39,8.31 L77.18,8.92 L77.94,9.55 L78.68,10.21 L79.40,10.90 L80.09,11.61 L80.77,12.35 L81.42,13.10 L82.05,13.88 L82.66,14.66 L83.25,15.46 L83.83,16.28 L84.39,17.10 L84.94,17.94 L85.47,18.78 L85.99,19.64 L86.50,20.50 L87.00,21.36 L87.48,22.24 L87.96,23.12 L88.42,24.00 L88.88,24.89 L89.32,25.79 L89.76,26.69 L90.18,27.59 L90.60,28.50 L91.01,29.41 L91.41,30.33 L91.81,31.24 L92.22,32.15 L92.63,33.07 L93.04,33.97 L93.47,34.88 L93.89,35.78 L94.31,36.69 L94.72,37.60 L95.12,38.51 L95.50,39.43 L95.86,40.36 L96.21,41.30 L96.54,42.24 L96.86,43.19 L97.17,44.14 L97.47,45.09 L97.76,46.05 L98.05,47.01 L98.33,47.97 L98.60,48.93 L98.87,49.89 L99.14,50.85 L99.41,51.82 L99.68,52.78 L99.96,53.74 L100.24,54.70 L100.53,55.65 L100.83,56.61 L101.13,57.56 L101.44,58.51 L101.75,59.46 L102.05,60.42 L102.34,61.37 L102.63,62.33 L102.90,63.29 L103.17,64.25 L103.43,65.22 L103.68,66.18 L103.93,67.15 L104.18,68.12 L104.42,69.09 L104.67,70.06 L104.91,71.03 L105.16,72.00 L105.41,72.97 L105.65,73.94 L105.90,74.91 L106.15,75.88 L106.39,76.85 L106.64,77.82 L106.88,78.79 L107.12,79.76 L107.36,80.73 L107.59,81.70 L107.83,82.67 L108.05,83.65 L108.28,84.62 L108.50,85.59 L108.73,86.57 L108.95,87.54 L109.17,88.52 L109.40,89.49 L109.63,90.46 L109.87,91.44 L110.11,92.41 L110.35,93.38 L110.60,94.35 L110.85,95.31 L111.10,96.28 L111.36,97.25 L111.62,98.21 L111.89,99.17 L112.17,100.14 L112.45,101.10 L112.73,102.05 L113.02,103.01 L113.32,103.97 L113.62,104.92 L113.92,105.87 L114.22,106.83 L114.53,107.78 L114.84,108.73 L115.14,109.68 L115.45,110.63 L115.76,111.59 L116.06,112.54 L116.37,113.49 L116.67,114.44 L116.97,115.40 L117.28,116.35 L117.58,117.30 L117.88,118.25 L118.19,119.21 L118.49,120.16 L118.79,121.12 L119.09,122.07 L119.38,123.02 L119.68,123.98 L119.98,124.93 L120.28,125.89 L120.57,126.84 L120.87,127.80 L121.16,128.75 L121.46,129.71 L121.76,130.66 L122.06,131.62 L122.36,132.57 L122.67,133.52 L122.97,134.47 L123.28,135.42 L123.60,136.37 L123.91,137.32 L124.22,138.27 L124.54,139.22 L124.85,140.17 L125.16,141.12 L125.46,142.08 L125.76,143.03 L126.05,143.99 L126.33,144.95 L126.61,145.91 L126.88,146.87 L127.15,147.83 L127.42,148.79 L127.69,149.76 L127.97,150.72 L128.26,151.67 L128.56,152.63 L128.87,153.58 L129.20,154.52 L129.54,155.46 L129.89,156.39 L130.27,157.32 L130.66,158.23 L131.07,159.14 L131.51,160.04 L131.96,160.93 L132.44,161.81 L132.93,162.67 L133.44,163.53 L133.96,164.38 L134.50,165.22 L135.05,166.06 L135.61,166.88 L136.19,167.70 L136.77,168.51 L137.37,169.31 L137.97,170.11 L138.59,170.89 L139.22,171.67 L139.86,172.44 L140.51,173.20 L141.17,173.95 L141.84,174.69 L142.52,175.42 L143.21,176.15 L143.90,176.86 L144.61,177.57 L145.33,178.26 L146.06,178.95 L146.79,179.63 L147.53,180.29 L148.29,180.95 L149.05,181.60 L149.81,182.24 L150.58,182.88 L151.36,183.51 L152.13,184.15 L152.90,184.78 L153.67,185.41 L154.45,186.05 L155.22,186.68 L156.00,187.30 L156.79,187.91 L157.60,188.50 L158.41,189.08 L159.24,189.64 L160.07,190.18 L160.92,190.71 L161.78,191.22 L162.64,191.73 L163.51,192.22 L164.38,192.71 L165.26,193.18 L166.14,193.65 L167.03,194.12 L167.92,194.57 L168.81,195.02 L169.71,195.46 L170.61,195.89 L171.52,196.31 L172.43,196.73 L173.34,197.14 L174.25,197.54 L175.17,197.94 L176.09,198.34 L177.01,198.73 L177.93,199.12 L178.85,199.51 L179.78,199.89 L180.70,200.27 L181.62,200.65 L182.55,201.03 L183.48,201.40 L184.41,201.76 L185.34,202.12 L186.28,202.47 L187.22,202.81 L188.17,203.14 L189.11,203.46 L190.06,203.77 L191.01,204.08 L191.97,204.37 L192.93,204.66 L193.88,204.94 L194.85,205.22 L195.81,205.49 L196.77,205.76 L197.73,206.03 L198.69,206.30 L199.65,206.59 L200.61,206.88 L201.56,207.18 L202.51,207.49 L203.46,207.81 L204.41,208.13 L205.35,208.45 L206.30,208.77 L207.25,209.08 L208.20,209.39 L209.16,209.68 L210.12,209.96 L211.08,210.22 L212.05,210.47 L213.02,210.71 L213.99,210.94 L214.96,211.16 L215.94,211.36 L216.92,211.56 L217.90,211.75 L218.89,211.93 L219.87,212.10 L220.86,212.26 L221.85,212.41 L222.84,212.56 L223.83,212.70 L224.82,212.83 L225.81,212.95 L226.80,213.07 L227.80,213.18 L228.79,213.29 L229.78,213.39 L230.78,213.48 L231.78,213.56 L232.77,213.64 L233.77,213.72 L234.77,213.79 L235.77,213.86 L236.76,213.92 L237.76,213.99 L238.76,214.05 L239.76,214.11 L240.76,214.16 L241.75,214.22 L242.75,214.28 L243.75,214.33 L244.75,214.38 L245.75,214.43 L246.75,214.48 L247.75,214.52 L248.75,214.57 L249.74,214.62 L250.74,214.66 L251.74,214.70 L252.74,214.75 L253.74,214.79 L254.74,214.83 L255.74,214.88 L256.74,214.92 L257.74,214.97 L258.74,215.01 L259.73,215.06 L260.73,215.11 L261.73,215.16 L262.73,215.21 L263.73,215.26 L264.73,215.31 L265.73,215.36 L266.73,215.41 L267.72,215.46 L268.72,215.51 L269.72,215.56 L270.72,215.61 L271.72,215.65 L272.72,215.70 L273.72,215.74 L274.72,215.78 L275.72,215.82 L276.72,215.86 L277.71,215.90 L278.71,215.94 L279.71,215.97 L280.71,216.01 L281.71,216.04 L282.71,216.08 L283.71,216.11 L284.71,216.14 L285.71,216.17 L286.71,216.20 L287.71,216.23 L288.71,216.26 L289.71,216.29 L290.71,216.31 L291.71,216.33 L292.71,216.35 L293.71,216.37 L294.71,216.39 L295.71,216.41 L296.71,216.42 L297.71,216.44 L298.71,216.45 L299.71,216.46 L300.71,216.48 L301.71,216.49 L302.71,216.50 L303.71,216.52 L304.71,216.53 L305.71,216.54 L306.71,216.56 L307.71,216.57 L308.71,216.58 L309.71,216.59 L310.71,216.60 L311.71,216.61 L312.71,216.62 L313.71,216.63 L314.71,216.64 L315.71,216.66 L316.71,216.66 L317.71,216.67 L318.71,216.68 L319.71,216.69 L320.71,216.70 L321.71,216.71 L322.71,216.72 L323.71,216.72 L324.71,216.73 L325.71,216.74 L326.71,216.75 L327.71,216.75 L328.71,216.76 L329.71,216.76 L330.71,216.77 L331.70,216.77 L332.70,216.78 L333.70,216.78 L334.70,216.79 L335.69,216.79 L336.68,216.79 L337.66,216.79 L338.63,216.80 L339.61,216.80 L340.60,216.80 L341.65,216.80" stroke="#6cc389" stroke-dasharray="6.3,1.9"/>
<path d="M42.50,10.30 L43.09,11.22 L43.65,12.06 L44.20,12.87 L44.75,13.67 L45.27,14.49 L45.74,15.35 L46.16,16.24 L46.56,17.15 L46.95,18.06 L47.34,18.98 L47.70,19.91 L48.07,20.84 L48.43,21.77 L48.80,22.70 L49.17,23.62 L49.55,24.55 L49.93,25.47 L50.30,26.40 L50.67,27.33 L51.03,28.26 L51.38,29.20 L51.72,30.14 L52.05,31.08 L52.38,32.02 L52.70,32.97 L53.02,33.92 L53.33,34.87 L53.64,35.82 L53.94,36.77 L54.24,37.72 L54.54,38.68 L54.84,39.63 L55.13,40.59 L55.43,41.54 L55.73,42.50 L56.03,43.45 L56.33,44.41 L56.63,45.36 L56.94,46.31 L57.25,47.26 L57.56,48.21 L57.87,49.16 L58.19,50.11 L58.50,51.06 L58.81,52.01 L59.12,52.96 L59.42,53.92 L59.72,54.87 L60.02,55.82 L60.32,56.78 L60.61,57.73 L60.90,58.69 L61.18,59.65 L61.46,60.61 L61.73,61.57 L62.00,62.54 L62.26,63.50 L62.52,64.47 L62.78,65.43 L63.04,66.40 L63.30,67.36 L63.57,68.33 L63.84,69.29 L64.12,70.25 L64.40,71.21 L64.69,72.16 L64.99,73.12 L65.30,74.07 L65.61,75.02 L65.92,75.97 L66.24,76.92 L66.56,77.87 L66.87,78.82 L67.18,79.77 L67.48,80.72 L67.78,81.67 L68.07,82.63 L68.35,83.59 L68.63,84.55 L68.89,85.52 L69.14,86.48 L69.39,87.45 L69.63,88.42 L69.86,89.39 L70.09,90.37 L70.32,91.34 L70.55,92.31 L70.78,93.29 L71.00,94.26 L71.24,95.23 L71.47,96.21 L71.71,97.18 L71.95,98.15 L72.19,99.12 L72.44,100.09 L72.68,101.06 L72.93,102.03 L73.19,102.99 L73.44,103.96 L73.70,104.92 L73.97,105.89 L74.23,106.85 L74.50,107.82 L74.78,108.78 L75.06,109.74 L75.35,110.69 L75.64,111.65 L75.93,112.61 L76.23,113.56 L76.52,114.52 L76.81,115.48 L77.09,116.43 L77.37,117.39 L77.64,118.36 L77.91,119.32 L78.17,120.29 L78.41,121.25 L78.66,122.22 L78.90,123.20 L79.13,124.17 L79.36,125.14 L79.58,126.11 L79.81,127.09 L80.04,128.06 L80.26,129.04 L80.49,130.01 L80.71,130.99 L80.94,131.96 L81.16,132.93 L81.39,133.91 L81.62,134.88 L81.85,135.85 L82.09,136.83 L82.33,137.80 L82.58,138.76 L82.84,139.73 L83.11,140.69 L83.38,141.65 L83.67,142.61 L83.97,143.56 L84.27,144.52 L84.59,145.46 L84.91,146.41 L85.25,147.35 L85.59,148.29 L85.94,149.23 L86.30,150.16 L86.67,151.09 L87.05,152.01 L87.44,152.93 L87.84,153.85 L88.24,154.77 L88.65,155.68 L89.07,156.58 L89.50,157.49 L89.93,158.39 L90.38,159.28 L90.83,160.17 L91.29,161.06 L91.77,161.94 L92.26,162.81 L92.76,163.67 L93.28,164.53 L93.80,165.38 L94.34,166.22 L94.88,167.06 L95.44,167.89 L96.00,168.72 L96.56,169.54 L97.14,170.36 L97.71,171.18 L98.29,172.00 L98.87,172.81 L99.45,173.63 L100.03,174.44 L100.62,175.25 L101.21,176.06 L101.80,176.86 L102.41,177.65 L103.03,178.43 L103.67,179.20 L104.32,179.95 L104.99,180.69 L105.68,181.41 L106.39,182.11 L107.11,182.80 L107.85,183.47 L108.61,184.13 L109.37,184.77 L110.14,185.41 L110.91,186.04 L111.69,186.66 L112.48,187.28 L113.28,187.89 L114.07,188.49 L114.88,189.07 L115.70,189.65 L116.52,190.22 L117.35,190.77 L118.20,191.30 L119.05,191.82 L119.91,192.33 L120.77,192.83 L121.65,193.32 L122.52,193.80 L123.40,194.28 L124.28,194.75 L125.17,195.21 L126.06,195.68 L126.95,196.13 L127.84,196.58 L128.74,197.02 L129.64,197.45 L130.54,197.87 L131.46,198.28 L132.37,198.68 L133.29,199.07 L134.22,199.45 L135.14,199.82 L136.08,200.18 L137.02,200.52 L137.96,200.85 L138.91,201.17 L139.86,201.48 L140.81,201.77 L141.77,202.06 L142.73,202.34 L143.69,202.62 L144.65,202.89 L145.62,203.16 L146.58,203.42 L147.55,203.68 L148.51,203.94 L149.48,204.20 L150.44,204.46 L151.41,204.72 L152.37,204.98 L153.34,205.25 L154.30,205.51 L155.26,205.78 L156.23,206.05 L157.19,206.32 L158.16,206.58 L159.12,206.84 L160.09,207.10 L161.05,207.36 L162.02,207.60 L162.99,207.84 L163.96,208.07 L164.94,208.30 L165.92,208.51 L166.89,208.72 L167.87,208.92 L168.86,209.11 L169.84,209.29 L170.82,209.47 L171.81,209.65 L172.79,209.82 L173.78,209.99 L174.76,210.16 L175.75,210.33 L176.73,210.50 L177.72,210.67 L178.70,210.84 L179.69,211.02 L180.67,211.20 L181.65,211.37 L182.64,211.55 L183.62,211.72 L184.61,211.88 L185.60,212.03 L186.59,212.17 L187.58,212.30 L188.57,212.43 L189.56,212.54 L190.56,212.65 L191.55,212.75 L192.55,212.84 L193.54,212.93 L194.54,213.01 L195.54,213.09 L196.53,213.17 L197.53,213.23 L198.53,213.30 L199.53,213.36 L200.53,213.42 L201.52,213.48 L202.52,213.54 L203.52,213.59 L204.52,213.65 L205.52,213.70 L206.52,213.75 L207.52,213.81 L208.51,213.87 L209.51,213.93 L210.51,213.99 L211.51,214.06 L212.51,214.13 L213.50,214.19 L214.50,214.26 L215.50,214.33 L216.50,214.39 L217.49,214.46 L218.49,214.52 L219.49,214.57 L220.49,214.63 L221.49,214.68 L222.49,214.74 L223.48,214.79 L224.48,214.83 L225.48,214.88 L226.48,214.92 L227.48,214.97 L228.48,215.01 L229.48,215.05 L230.48,215.08 L231.48,215.12 L232.48,215.15 L233.48,215.18 L234.48,215.22 L235.48,215.24 L236.48,215.27 L237.47,215.30 L238.47,215.33 L239.47,215.36 L240.47,215.38 L241.47,215.41 L242.47,215.43 L243.47,215.46 L244.47,215.49 L245.47,215.51 L246.47,215.54 L247.47,215.57 L248.47,215.60 L249.47,215.62 L250.47,215.65 L251.47,215.68 L252.47,215.70 L253.47,215.73 L254.47,215.76 L255.47,215.78 L256.47,215.81 L257.47,215.84 L258.47,215.86 L259.47,215.88 L260.47,215.91 L261.47,215.93 L262.47,215.95 L263.47,215.97 L264.47,215.99 L265.47,216.00 L266.47,216.02 L267.47,216.04 L268.47,216.05 L269.47,216.07 L270.47,216.09 L271.47,216.10 L272.47,216.11 L273.47,216.13 L274.46,216.14 L275.46,216.16 L276.46,216.17 L277.46,216.18 L278.46,216.19 L279.46,216.20 L280.46,216.21 L281.46,216.22 L282.46,216.23 L283.46,216.24 L284.46,216.24 L285.46,216.25 L286.46,216.26 L287.46,216.26 L288.46,216.27 L289.46,216.28 L290.46,216.28 L291.46,216.29 L292.46,216.29 L293.46,216.30 L294.46,216.30 L295.46,216.31 L296.46,216.31 L297.46,216.32 L298.46,216.32 L299.46,216.33 L300.46,216.33 L301.46,216.34 L302.46,216.34 L303.46,216.35 L304.46,216.35 L305.46,216.36 L306.46,216.36 L307.46,216.37 L308.46,216.37 L309.46,216.38 L310.46,216.38 L311.46,216.38 L312.46,216.39 L313.46,216.39 L314.46,216.40 L315.46,216.40 L316.46,216.40 L317.46,216.41 L318.46,216.41 L319.46,216.41 L320.46,216.42 L321.46,216.42 L322.46,216.42 L323.46,216.42 L324.46,216.43 L325.46,216.43 L326.46,216.43 L327.46,216.43 L328.46,216.44 L329.46,216.44 L330.46,216.44 L331.46,216.44 L332.46,216.44 L333.46,216.44 L334.46,216.44 L335.45,216.45 L336.44,216.45 L337.42,216.45 L338.39,216.45 L339.36,216.45 L340.36,216.45 L341.41,216.45" stroke="#fbb52f" stroke-dasharray="6.3,1.9"/>
</g>
<path d="M42.8,216.55 v4.0 M117.6,216.55 v4.0 M192.5,216.55 v4.0 M267.4,216.55 v4.0 M342.3,216.55 v4.0 M42.75,216.6 h-3.7 M42.75,174.0 h-3.7 M42.75,131.5 h-3.7 M42.75,89.0 h-3.7 M42.75,46.5 h-3.7 M42.75,4.0 h-3.7" stroke="#1c1c1c" stroke-width="1.0" fill="none"/>
<path d="M65.3,216.55 v2.5 M78.5,216.55 v2.5 M87.8,216.55 v2.5 M95.1,216.55 v2.5 M101.0,216.55 v2.5 M106.0,216.55 v2.5 M110.4,216.55 v2.5 M114.2,216.55 v2.5 M140.2,216.55 v2.5 M153.4,216.55 v2.5 M162.7,216.55 v2.5 M170.0,216.55 v2.5 M175.9,216.55 v2.5 M180.9,216.55 v2.5 M185.3,216.55 v2.5 M189.1,216.55 v2.5 M215.1,216.55 v2.5 M228.3,216.55 v2.5 M237.6,216.55 v2.5 M244.9,216.55 v2.5 M250.8,216.55 v2.5 M255.8,216.55 v2.5 M260.2,216.55 v2.5 M264.0,216.55 v2.5 M290.0,216.55 v2.5 M303.1,216.55 v2.5 M312.5,216.55 v2.5 M319.8,216.55 v2.5 M325.7,216.55 v2.5 M330.7,216.55 v2.5 M335.0,216.55 v2.5 M338.9,216.55 v2.5" stroke="#1c1c1c" stroke-width="0.85" fill="none"/>
<rect x="42.75" y="4.0" width="299.55" height="212.55" fill="none" stroke="#1c1c1c" stroke-width="1.25"/>
<text x="19.4" y="220.6" font-size="11.3" textLength="17.3" lengthAdjust="spacingAndGlyphs">0.0</text>
<text x="19.4" y="178.1" font-size="11.3" textLength="17.3" lengthAdjust="spacingAndGlyphs">0.2</text>
<text x="19.4" y="135.6" font-size="11.3" textLength="17.3" lengthAdjust="spacingAndGlyphs">0.4</text>
<text x="19.4" y="93.1" font-size="11.3" textLength="17.3" lengthAdjust="spacingAndGlyphs">0.6</text>
<text x="19.4" y="50.6" font-size="11.3" textLength="17.3" lengthAdjust="spacingAndGlyphs">0.8</text>
<text x="19.4" y="8.1" font-size="11.3" textLength="17.3" lengthAdjust="spacingAndGlyphs">1.0</text>
<text x="31.1" y="232.3" font-size="11.3" textLength="23.2" lengthAdjust="spacingAndGlyphs">10<tspan font-size="7.9" dy="-4.4">−3</tspan></text>
<text x="106.0" y="232.3" font-size="11.3" textLength="23.2" lengthAdjust="spacingAndGlyphs">10<tspan font-size="7.9" dy="-4.4">−2</tspan></text>
<text x="180.9" y="232.3" font-size="11.3" textLength="23.2" lengthAdjust="spacingAndGlyphs">10<tspan font-size="7.9" dy="-4.4">−1</tspan></text>
<text x="258.2" y="232.3" font-size="11.3" textLength="18.4" lengthAdjust="spacingAndGlyphs">10<tspan font-size="7.9" dy="-4.4">0</tspan></text>
<text x="333.1" y="232.3" font-size="11.3" textLength="18.4" lengthAdjust="spacingAndGlyphs">10<tspan font-size="7.9" dy="-4.4">1</tspan></text>
<text x="151.4" y="247.5" font-size="11.3" textLength="81.5" lengthAdjust="spacingAndGlyphs">Total strain, <tspan font-style="italic">ε</tspan><tspan font-size="7.9" dy="1.8">tot</tspan></text>
<text transform="translate(11.6,191.7) rotate(-90)" font-size="11.3" textLength="96.6" lengthAdjust="spacingAndGlyphs">Cum. target mass,</text>
<text transform="translate(11.6,90.8) rotate(-90)" font-size="11.3" textLength="12.4" lengthAdjust="spacingAndGlyphs">M(</text>
<text transform="translate(11.6,77.2) rotate(-90)" font-size="12" textLength="8.0" lengthAdjust="spacingAndGlyphs">&gt;</text>
<text transform="translate(11.6,67.4) rotate(-90)" font-size="11.3" font-style="italic" textLength="6.0" lengthAdjust="spacingAndGlyphs">ε</text>
<text transform="translate(13.4,61.0) rotate(-90)" font-size="8.2" textLength="10.2" lengthAdjust="spacingAndGlyphs">tot</text>
<text transform="translate(11.6,51.0) rotate(-90)" font-size="11.3" textLength="17.6" lengthAdjust="spacingAndGlyphs">)/M</text>
<text transform="translate(13.4,34.0) rotate(-90)" font-size="8.2" textLength="3.3" lengthAdjust="spacingAndGlyphs">t</text>
<rect x="204" y="7.9" width="135" height="111.1" rx="2.2" fill="#fff" fill-opacity="0.8" stroke="#d2d2d2" stroke-width="1"/>
<path d="M206.3,15.8 H224.9" stroke="#0b1f5c" stroke-width="1.7" fill="none"/>
<text x="230.6" y="18.1" font-size="9.4" textLength="30.2" lengthAdjust="spacingAndGlyphs">Sphere,</text>
<text x="265.4" y="18.1" font-size="9.4" textLength="5.6" lengthAdjust="spacingAndGlyphs">Y</text>
<text x="270.9" y="19.7" font-size="6.6" textLength="4.0" lengthAdjust="spacingAndGlyphs">0</text>
<text x="276.2" y="18.1" font-size="9.4" textLength="5.8" lengthAdjust="spacingAndGlyphs">=</text>
<text x="284.1" y="18.1" font-size="9.4" textLength="5.75" lengthAdjust="spacingAndGlyphs">0</text>
<text x="292.2" y="18.1" font-size="9.4" textLength="9.4" lengthAdjust="spacingAndGlyphs">Pa</text>
<text x="304.6" y="18.1" font-size="9.4" textLength="13.6" lengthAdjust="spacingAndGlyphs">(90</text>
<circle cx="321.4" cy="13.5" r="0.9" fill="none" stroke="#000" stroke-width="0.6"/>
<text x="325.2" y="18.1" font-size="9.4" textLength="3.4" lengthAdjust="spacingAndGlyphs">)</text>
<path d="M206.3,29.3 H224.9" stroke="#1d7b8f" stroke-width="1.7" fill="none"/>
<text x="230.6" y="31.6" font-size="9.4" textLength="30.2" lengthAdjust="spacingAndGlyphs">Sphere,</text>
<text x="265.4" y="31.6" font-size="9.4" textLength="5.6" lengthAdjust="spacingAndGlyphs">Y</text>
<text x="270.9" y="33.2" font-size="6.6" textLength="4.0" lengthAdjust="spacingAndGlyphs">0</text>
<text x="276.2" y="31.6" font-size="9.4" textLength="5.8" lengthAdjust="spacingAndGlyphs">=</text>
<text x="284.1" y="31.6" font-size="9.4" textLength="5.75" lengthAdjust="spacingAndGlyphs">1</text>
<text x="292.2" y="31.6" font-size="9.4" textLength="9.4" lengthAdjust="spacingAndGlyphs">Pa</text>
<text x="304.6" y="31.6" font-size="9.4" textLength="13.6" lengthAdjust="spacingAndGlyphs">(90</text>
<circle cx="321.4" cy="27.0" r="0.9" fill="none" stroke="#000" stroke-width="0.6"/>
<text x="325.2" y="31.6" font-size="9.4" textLength="3.4" lengthAdjust="spacingAndGlyphs">)</text>
<path d="M206.3,42.8 H224.9" stroke="#6cc389" stroke-width="1.7" fill="none"/>
<text x="230.6" y="45.1" font-size="9.4" textLength="30.2" lengthAdjust="spacingAndGlyphs">Sphere,</text>
<text x="265.4" y="45.1" font-size="9.4" textLength="5.6" lengthAdjust="spacingAndGlyphs">Y</text>
<text x="270.9" y="46.7" font-size="6.6" textLength="4.0" lengthAdjust="spacingAndGlyphs">0</text>
<text x="276.2" y="45.1" font-size="9.4" textLength="5.8" lengthAdjust="spacingAndGlyphs">=</text>
<text x="284.1" y="45.1" font-size="9.4" textLength="11.5" lengthAdjust="spacingAndGlyphs">10</text>
<text x="298.0" y="45.1" font-size="9.4" textLength="9.4" lengthAdjust="spacingAndGlyphs">Pa</text>
<text x="310.4" y="45.1" font-size="9.4" textLength="13.6" lengthAdjust="spacingAndGlyphs">(90</text>
<circle cx="327.1" cy="40.5" r="0.9" fill="none" stroke="#000" stroke-width="0.6"/>
<text x="331.0" y="45.1" font-size="9.4" textLength="3.4" lengthAdjust="spacingAndGlyphs">)</text>
<path d="M206.3,56.4 H224.9" stroke="#fbb52f" stroke-width="1.7" fill="none"/>
<text x="230.6" y="58.7" font-size="9.4" textLength="30.2" lengthAdjust="spacingAndGlyphs">Sphere,</text>
<text x="265.4" y="58.7" font-size="9.4" textLength="5.6" lengthAdjust="spacingAndGlyphs">Y</text>
<text x="270.9" y="60.3" font-size="6.6" textLength="4.0" lengthAdjust="spacingAndGlyphs">0</text>
<text x="276.2" y="58.7" font-size="9.4" textLength="5.8" lengthAdjust="spacingAndGlyphs">=</text>
<text x="284.1" y="58.7" font-size="9.4" textLength="11.5" lengthAdjust="spacingAndGlyphs">50</text>
<text x="298.0" y="58.7" font-size="9.4" textLength="9.4" lengthAdjust="spacingAndGlyphs">Pa</text>
<text x="310.4" y="58.7" font-size="9.4" textLength="13.6" lengthAdjust="spacingAndGlyphs">(90</text>
<circle cx="327.1" cy="54.1" r="0.9" fill="none" stroke="#000" stroke-width="0.6"/>
<text x="331.0" y="58.7" font-size="9.4" textLength="3.4" lengthAdjust="spacingAndGlyphs">)</text>
<path d="M206.3,69.9 H224.9" stroke="#0b1f5c" stroke-width="1.7" stroke-dasharray="6.3,1.9" fill="none"/>
<text x="230.6" y="72.2" font-size="9.4" textLength="30.2" lengthAdjust="spacingAndGlyphs">Sphere,</text>
<text x="265.4" y="72.2" font-size="9.4" textLength="5.6" lengthAdjust="spacingAndGlyphs">Y</text>
<text x="270.9" y="73.8" font-size="6.6" textLength="4.0" lengthAdjust="spacingAndGlyphs">0</text>
<text x="276.2" y="72.2" font-size="9.4" textLength="5.8" lengthAdjust="spacingAndGlyphs">=</text>
<text x="284.1" y="72.2" font-size="9.4" textLength="5.75" lengthAdjust="spacingAndGlyphs">0</text>
<text x="292.2" y="72.2" font-size="9.4" textLength="9.4" lengthAdjust="spacingAndGlyphs">Pa</text>
<text x="304.6" y="72.2" font-size="9.4" textLength="13.6" lengthAdjust="spacingAndGlyphs">(45</text>
<circle cx="321.4" cy="67.6" r="0.9" fill="none" stroke="#000" stroke-width="0.6"/>
<text x="325.2" y="72.2" font-size="9.4" textLength="3.4" lengthAdjust="spacingAndGlyphs">)</text>
<path d="M206.3,83.4 H224.9" stroke="#1d7b8f" stroke-width="1.7" stroke-dasharray="6.3,1.9" fill="none"/>
<text x="230.6" y="85.7" font-size="9.4" textLength="30.2" lengthAdjust="spacingAndGlyphs">Sphere,</text>
<text x="265.4" y="85.7" font-size="9.4" textLength="5.6" lengthAdjust="spacingAndGlyphs">Y</text>
<text x="270.9" y="87.3" font-size="6.6" textLength="4.0" lengthAdjust="spacingAndGlyphs">0</text>
<text x="276.2" y="85.7" font-size="9.4" textLength="5.8" lengthAdjust="spacingAndGlyphs">=</text>
<text x="284.1" y="85.7" font-size="9.4" textLength="5.75" lengthAdjust="spacingAndGlyphs">1</text>
<text x="292.2" y="85.7" font-size="9.4" textLength="9.4" lengthAdjust="spacingAndGlyphs">Pa</text>
<text x="304.6" y="85.7" font-size="9.4" textLength="13.6" lengthAdjust="spacingAndGlyphs">(45</text>
<circle cx="321.4" cy="81.1" r="0.9" fill="none" stroke="#000" stroke-width="0.6"/>
<text x="325.2" y="85.7" font-size="9.4" textLength="3.4" lengthAdjust="spacingAndGlyphs">)</text>
<path d="M206.3,96.9 H224.9" stroke="#6cc389" stroke-width="1.7" stroke-dasharray="6.3,1.9" fill="none"/>
<text x="230.6" y="99.2" font-size="9.4" textLength="30.2" lengthAdjust="spacingAndGlyphs">Sphere,</text>
<text x="265.4" y="99.2" font-size="9.4" textLength="5.6" lengthAdjust="spacingAndGlyphs">Y</text>
<text x="270.9" y="100.8" font-size="6.6" textLength="4.0" lengthAdjust="spacingAndGlyphs">0</text>
<text x="276.2" y="99.2" font-size="9.4" textLength="5.8" lengthAdjust="spacingAndGlyphs">=</text>
<text x="284.1" y="99.2" font-size="9.4" textLength="11.5" lengthAdjust="spacingAndGlyphs">10</text>
<text x="298.0" y="99.2" font-size="9.4" textLength="9.4" lengthAdjust="spacingAndGlyphs">Pa</text>
<text x="310.4" y="99.2" font-size="9.4" textLength="13.6" lengthAdjust="spacingAndGlyphs">(45</text>
<circle cx="327.1" cy="94.6" r="0.9" fill="none" stroke="#000" stroke-width="0.6"/>
<text x="331.0" y="99.2" font-size="9.4" textLength="3.4" lengthAdjust="spacingAndGlyphs">)</text>
<path d="M206.3,110.4 H224.9" stroke="#fbb52f" stroke-width="1.7" stroke-dasharray="6.3,1.9" fill="none"/>
<text x="230.6" y="112.7" font-size="9.4" textLength="30.2" lengthAdjust="spacingAndGlyphs">Sphere,</text>
<text x="265.4" y="112.7" font-size="9.4" textLength="5.6" lengthAdjust="spacingAndGlyphs">Y</text>
<text x="270.9" y="114.3" font-size="6.6" textLength="4.0" lengthAdjust="spacingAndGlyphs">0</text>
<text x="276.2" y="112.7" font-size="9.4" textLength="5.8" lengthAdjust="spacingAndGlyphs">=</text>
<text x="284.1" y="112.7" font-size="9.4" textLength="11.5" lengthAdjust="spacingAndGlyphs">50</text>
<text x="298.0" y="112.7" font-size="9.4" textLength="9.4" lengthAdjust="spacingAndGlyphs">Pa</text>
<text x="310.4" y="112.7" font-size="9.4" textLength="13.6" lengthAdjust="spacingAndGlyphs">(45</text>
<circle cx="327.1" cy="108.1" r="0.9" fill="none" stroke="#000" stroke-width="0.6"/>
<text x="331.0" y="112.7" font-size="9.4" textLength="3.4" lengthAdjust="spacingAndGlyphs">)</text>
</svg></body></html>
